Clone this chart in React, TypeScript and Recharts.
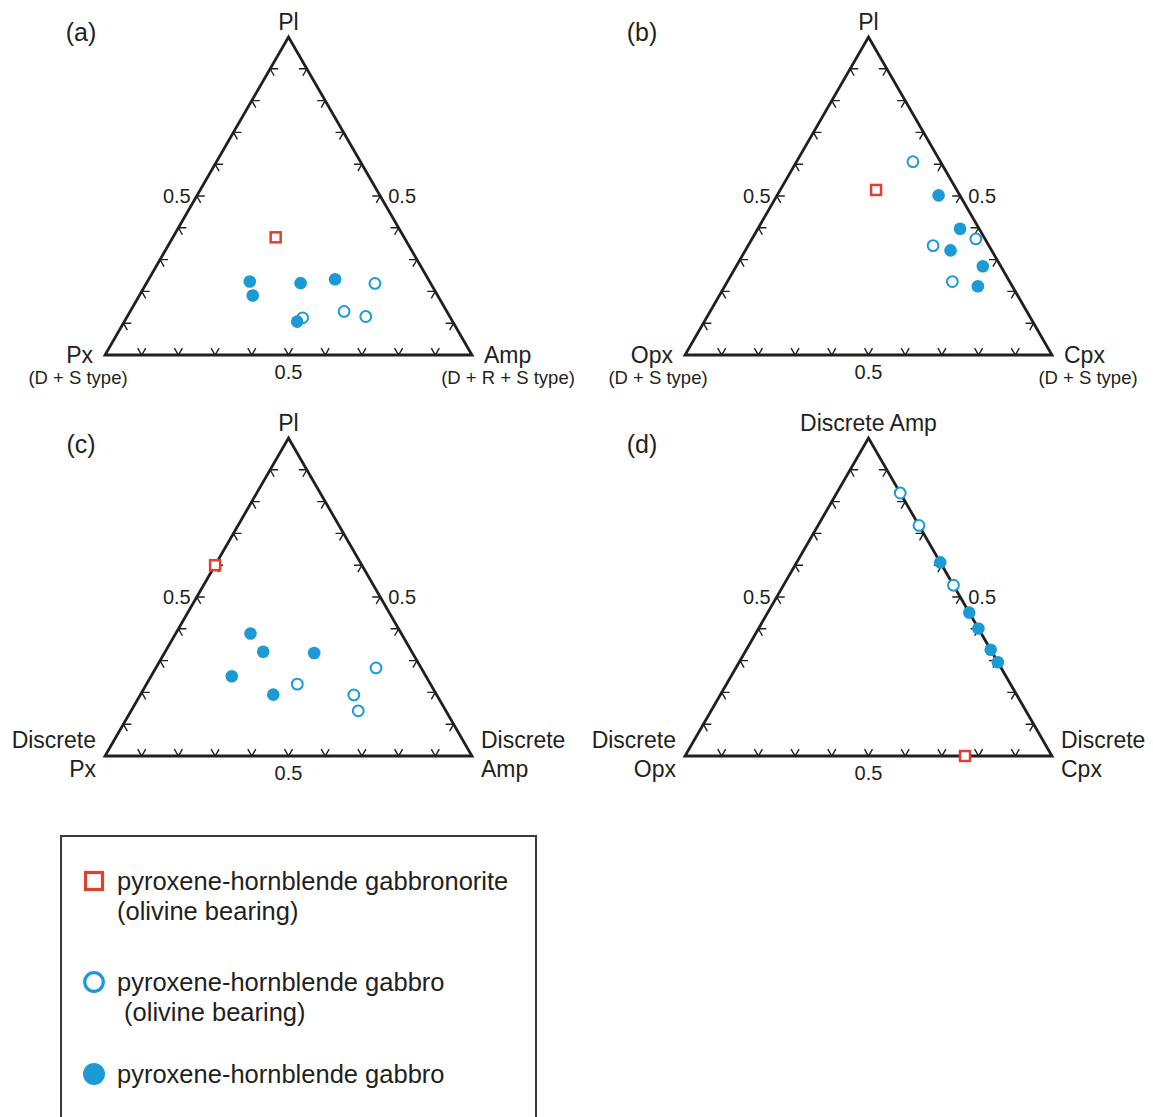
import React from 'react'
import { ScatterChart, Scatter, XAxis, YAxis } from 'recharts'

const SQ = Math.sqrt(3) / 2
const BLUE = '#1b9ad6'
const RED = '#e2402f'
const INK = '#231f20'
const FONT = '"Liberation Sans", Arial, Helvetica, sans-serif'

// each point is [top apex fraction, right apex fraction]; left = 1 - top - right
// (a) Pl - Px - Amp
const aGabbronorite = [[0.37, 0.28]]
const aOlGabbro = [[0.225, 0.623], [0.117, 0.48], [0.137, 0.583], [0.121, 0.65]]
const aGabbro = [[0.231, 0.279], [0.187, 0.309], [0.226, 0.42], [0.238, 0.508], [0.105, 0.471]]

// (b) Pl - Opx - Cpx
const bGabbronorite = [[0.519, 0.261]]
const bOlGabbro = [[0.608, 0.317], [0.365, 0.61], [0.344, 0.504], [0.231, 0.613]]
const bGabbro = [[0.502, 0.44], [0.397, 0.551], [0.329, 0.559], [0.279, 0.672], [0.216, 0.69]]

// (c) Pl - Discrete Px - Discrete Amp
const cGabbronorite = [[0.6, 0.0]]
const cOlGabbro = [[0.226, 0.411], [0.277, 0.6], [0.192, 0.582], [0.142, 0.619]]
const cGabbro = [[0.385, 0.204], [0.328, 0.267], [0.324, 0.408], [0.251, 0.22], [0.193, 0.362]]

// (d) Discrete Amp - Discrete Opx - Discrete Cpx
const dGabbronorite = [[0.0, 0.763]]
const dOlGabbro = [[0.827, 0.173], [0.725, 0.275], [0.537, 0.463]]
const dGabbro = [[0.609, 0.391], [0.451, 0.549], [0.401, 0.599], [0.334, 0.666], [0.295, 0.705]]

const tickValues = [0.1, 0.2, 0.3, 0.4, 0.5, 0.6, 0.7, 0.8, 0.9]
const midLabel = '0.5'

const toXY = (p: number[]) => ({ x: p[1] + p[0] / 2, y: p[0] * SQ })

const triangle = [
  { x: 0, y: 0 }, { x: 1, y: 0 }, { x: 0.5, y: SQ }, { x: 0, y: 0 }, { x: 1, y: 0 },
]

const ticks = tickValues.flatMap(v => [
  { x: v, y: 0, side: 'base' },
  { x: v / 2, y: v * SQ, side: 'left' },
  { x: 1 - v / 2, y: v * SQ, side: 'right' },
])

const edgeMids = [
  { x: 0.25, y: SQ / 2, side: 'left' },
  { x: 0.75, y: SQ / 2, side: 'right' },
  { x: 0.5, y: 0, side: 'base' },
]

const vertices = [
  { x: 0.5, y: SQ, pos: 'top' },
  { x: 0, y: 0, pos: 'left' },
  { x: 1, y: 0, pos: 'right' },
]

const ARMS: Record<string, number[][]> = {
  base: [[-0.5, -0.866], [0.5, -0.866]],
  left: [[1, 0], [0.5, 0.866]],
  right: [[-1, 0], [-0.5, 0.866]],
}

const TickMark = (p: any) => {
  const [a, b] = ARMS[p.payload.side]
  const L = 8
  return (
    <path
      d={`M${p.cx + a[0] * L},${p.cy + a[1] * L}L${p.cx},${p.cy}L${p.cx + b[0] * L},${p.cy + b[1] * L}`}
      fill="none" stroke={INK} strokeWidth={1.4}
    />
  )
}

const EdgeLabel = (p: any) => {
  const s = p.payload.side
  const common = { fontSize: 20, fill: INK, fontFamily: FONT, dominantBaseline: 'central' as const }
  if (s === 'left') return <text x={p.cx - 6} y={p.cy} textAnchor="end" {...common}>{midLabel}</text>
  if (s === 'right') return <text x={p.cx + 8} y={p.cy} textAnchor="start" {...common}>{midLabel}</text>
  return <text x={p.cx} y={p.cy + 17} textAnchor="middle" {...common}>{midLabel}</text>
}

const FilledDot = (p: any) => <circle cx={p.cx} cy={p.cy} r={6.3} fill={BLUE} />
const OpenDot = (p: any) => <circle cx={p.cx} cy={p.cy} r={5.4} fill="#fff" stroke={BLUE} strokeWidth={2} />
const SquareDot = (p: any) => (
  <rect x={p.cx - 5} y={p.cy - 5} width={10} height={10} fill="#fff" stroke={RED} strokeWidth={2.5} />
)

interface PanelCfg {
  left: number
  top: number
  width: number
  margin: { top: number; right: number; bottom: number; left: number }
  letter: string
  letterAt: [number, number]
  style: 'sub' | 'stack'
  labels: { top: string[]; left: string[]; right: string[] }
  squares: number[][]
  open: number[][]
  filled: number[][]
}

function Panel({ cfg }: { cfg: PanelCfg }) {
  const txt = { fill: INK, fontFamily: FONT, dominantBaseline: 'central' as const }
  const VertexLabel = (p: any) => {
    const pos = p.payload.pos as 'top' | 'left' | 'right'
    const lines = cfg.labels[pos]
    const { cx, cy } = p
    if (pos === 'top') {
      return <text x={cx} y={cy - 15} textAnchor="middle" fontSize={23} {...txt}>{lines[0]}</text>
    }
    const sign = pos === 'left' ? -1 : 1
    const anchor = pos === 'left' ? 'end' : 'start'
    if (cfg.style === 'sub') {
      return (
        <g>
          <text x={cx + sign * 12} y={cy} textAnchor={anchor} fontSize={23} {...txt}>{lines[0]}</text>
          <text x={cx + (pos === 'left' ? -27 : 36)} y={cy + 22} textAnchor="middle" fontSize={18.5} {...txt}>{lines[1]}</text>
        </g>
      )
    }
    return (
      <g>
        <text x={cx + sign * 9} y={cy - 16} textAnchor={anchor} fontSize={23} {...txt}>{lines[0]}</text>
        <text x={cx + sign * 9} y={cy + 13} textAnchor={anchor} fontSize={23} {...txt}>{lines[1]}</text>
      </g>
    )
  }

  return (
    <div style={{ position: 'absolute', left: cfg.left, top: cfg.top, width: cfg.width, height: 400 }}>
      <ScatterChart width={cfg.width} height={400} margin={cfg.margin}>
        <XAxis type="number" dataKey="x" domain={[0, 1]} hide />
        <YAxis type="number" dataKey="y" domain={[0, SQ]} hide />
        <Scatter data={ticks} shape={TickMark} isAnimationActive={false} />
        <Scatter
          data={triangle}
          line={{ stroke: INK, strokeWidth: 2.8, strokeLinejoin: 'miter' }}
          shape={() => <g />}
          isAnimationActive={false}
        />
        <Scatter data={edgeMids} shape={EdgeLabel} isAnimationActive={false} />
        <Scatter data={vertices} shape={VertexLabel} isAnimationActive={false} />
        <Scatter data={cfg.squares.map(toXY)} shape={SquareDot} isAnimationActive={false} />
        <Scatter data={cfg.open.map(toXY)} shape={OpenDot} isAnimationActive={false} />
        <Scatter data={cfg.filled.map(toXY)} shape={FilledDot} isAnimationActive={false} />
      </ScatterChart>
      <div
        style={{
          position: 'absolute', left: cfg.letterAt[0], top: cfg.letterAt[1],
          transform: 'translate(-50%, -50%)', fontFamily: FONT, fontSize: 25, color: INK, lineHeight: 1,
        }}
      >
        {cfg.letter}
      </div>
    </div>
  )
}

const panels: PanelCfg[] = [
  {
    left: 0, top: 0, width: 580, margin: { top: 37, right: 108, bottom: 45, left: 105 },
    letter: '(a)', letterAt: [81, 32], style: 'sub',
    labels: { top: ['Pl'], left: ['Px', '(D + S type)'], right: ['Amp', '(D + R + S type)'] },
    squares: aGabbronorite, open: aOlGabbro, filled: aGabbro,
  },
  {
    left: 580, top: 0, width: 573, margin: { top: 37, right: 101, bottom: 45, left: 105 },
    letter: '(b)', letterAt: [62, 32], style: 'sub',
    labels: { top: ['Pl'], left: ['Opx', '(D + S type)'], right: ['Cpx', '(D + S type)'] },
    squares: bGabbronorite, open: bOlGabbro, filled: bGabbro,
  },
  {
    left: 0, top: 400, width: 580, margin: { top: 38, right: 108, bottom: 44, left: 105 },
    letter: '(c)', letterAt: [81, 44], style: 'stack',
    labels: { top: ['Pl'], left: ['Discrete', 'Px'], right: ['Discrete', 'Amp'] },
    squares: cGabbronorite, open: cOlGabbro, filled: cGabbro,
  },
  {
    left: 580, top: 400, width: 573, margin: { top: 38, right: 101, bottom: 44, left: 105 },
    letter: '(d)', letterAt: [62, 44], style: 'stack',
    labels: { top: ['Discrete Amp'], left: ['Discrete', 'Opx'], right: ['Discrete', 'Cpx'] },
    squares: dGabbronorite, open: dOlGabbro, filled: dGabbro,
  },
]

const legendItems = [
  { kind: 'square', lines: ['pyroxene-hornblende gabbronorite', '(olivine bearing)'] },
  { kind: 'open', lines: ['pyroxene-hornblende gabbro', ' (olivine bearing)'] },
  { kind: 'filled', lines: ['pyroxene-hornblende gabbro'] },
]

function LegendMarker({ kind }: { kind: string }) {
  return (
    <svg width={26} height={26} style={{ position: 'absolute', left: 19, top: -13 }}>
      {kind === 'square' && <rect x={4.5} y={4.5} width={17} height={17} fill="#fff" stroke={RED} strokeWidth={3.2} />}
      {kind === 'open' && <circle cx={13} cy={13} r={9.3} fill="#fff" stroke={BLUE} strokeWidth={3.2} />}
      {kind === 'filled' && <circle cx={13} cy={13} r={11} fill={BLUE} />}
    </svg>
  )
}

function Legend() {
  const rows = [44, 145, 237]
  return (
    <div
      style={{
        position: 'absolute', left: 60, top: 835, width: 473, height: 320,
        border: '2px solid #3a3a3a', background: '#fff',
      }}
    >
      {legendItems.map((item, i) => (
        <div key={i} style={{ position: 'absolute', left: 0, top: rows[i] }}>
          <LegendMarker kind={item.kind} />
          {item.lines.map((ln, j) => (
            <div
              key={j}
              style={{
                position: 'absolute', left: 55, top: j * 30 - 15, whiteSpace: 'pre',
                fontFamily: FONT, fontSize: 25.5, color: INK, lineHeight: '30px',
              }}
            >
              {ln}
            </div>
          ))}
        </div>
      ))}
    </div>
  )
}

export default function App() {
  return (
    <div
      style={{
        position: 'absolute', left: 0, top: 0, width: 1153, height: 1117,
        overflow: 'hidden', background: '#fff',
      }}
    >
      {panels.map((p, i) => <Panel key={i} cfg={p} />)}
      <Legend />
    </div>
  )
}
